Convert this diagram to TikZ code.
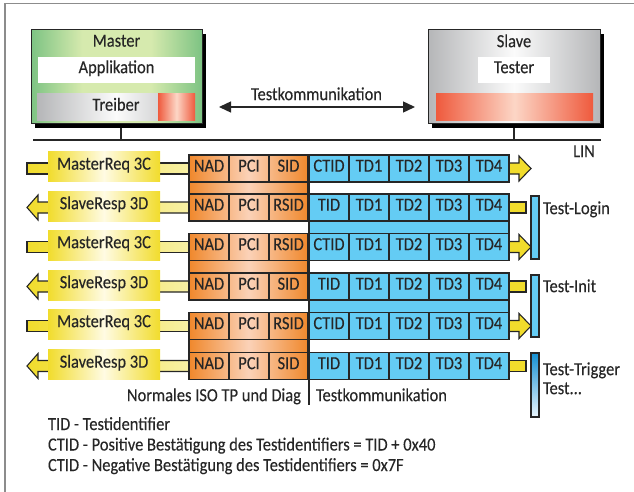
\documentclass[tikz,border=0pt]{standalone}
\usepackage{fontspec}
\setmainfont{Carlito}[FakeStretch=0.89, FakeBold=0.2]
\usetikzlibrary{arrows.meta}

\definecolor{ink}{HTML}{262626}
\definecolor{framegray}{HTML}{8C8C8C}
\definecolor{grnE}{HTML}{7DC383}
\definecolor{grnC}{HTML}{D6EAAE}
\definecolor{gryE}{HTML}{B5B6B8}
\definecolor{gryC}{HTML}{FBFBFB}
\definecolor{redE}{HTML}{EF5A3D}
\definecolor{redC}{HTML}{FCD6C6}
\definecolor{orgE}{HTML}{F0882C}
\definecolor{orgC}{HTML}{FBD2B8}
\definecolor{yelE}{HTML}{F1DC2C}
\definecolor{yelC}{HTML}{FFFBE3}
\definecolor{yelP}{HTML}{F8F1A8}
\definecolor{blu}{HTML}{64CCF4}
\definecolor{bluD}{HTML}{1490D2}
\definecolor{bluM}{HTML}{A6D9F4}
\definecolor{bluL}{HTML}{EAF6FD}

% edge - centre - edge colour bands (the path box maps to 25bp..75bp)
\pgfdeclarehorizontalshading{greenband}{100bp}{color(0bp)=(grnE); color(25bp)=(grnE); color(40bp)=(grnC); color(60bp)=(grnC); color(75bp)=(grnE); color(100bp)=(grnE)}
\pgfdeclarehorizontalshading{grayband}{100bp}{color(0bp)=(gryE); color(25bp)=(gryE); color(50bp)=(gryC); color(75bp)=(gryE); color(100bp)=(gryE)}
\pgfdeclarehorizontalshading{redband}{100bp}{color(0bp)=(redE); color(25bp)=(redE); color(50bp)=(redC); color(75bp)=(redE); color(100bp)=(redE)}
\pgfdeclarehorizontalshading{orangeband}{100bp}{color(0bp)=(orgE); color(25bp)=(orgE); color(50bp)=(orgC); color(75bp)=(orgE); color(100bp)=(orgE)}
\pgfdeclarehorizontalshading{yellowband}{100bp}{color(0bp)=(yelE); color(25bp)=(yelE); color(50bp)=(yelC); color(75bp)=(yelE); color(100bp)=(yelE)}

\newcommand\dfont{\fontsize{18.5pt}{21pt}\selectfont}

\begin{document}
\begin{tikzpicture}[x=1pt,y=-1pt,
  every node/.style={inner sep=0pt, outer sep=0pt, font=\dfont, text=ink,
                     text height=0.63em, text depth=0pt},
  unitbox/.style={draw=ink, line width=1pt},
  shadowbox/.style={fill=black},
  cellbox/.style={draw=ink, line width=1.2pt, minimum height=27pt},
  block/.style={draw=ink, line width=1.2pt},
  lbl/.style={shading=yellowband, minimum width=112pt, minimum height=30pt},
  arrowline/.style={draw=ink, line width=1.1pt, line join=miter},
  bar/.style={draw=ink, line width=1.1pt, minimum width=8pt},
  linkline/.style={ink, line width=1.8pt},
  commarrow/.style={ink, line width=1.4pt, {Triangle[length=12pt,width=11pt]}-{Triangle[length=12pt,width=11pt]}}
]
\useasboundingbox (0,0) rectangle (634,492);

% frame (top and left edge only)
\draw[framegray, line width=1.8pt] (5,492) -- (5,3.5) -- (634,3.5);

% ---------------- Master ----------------
\node[shadowbox, minimum width=171pt, minimum height=94pt] (mshadow) at (120.5,81) {};
\node[unitbox, shading=greenband, minimum width=171pt, minimum height=94pt] (master) at (116.5,77) {};
\node (mtitle) at (116.5,43.5) {Master};
\node[fill=white, minimum width=157pt, minimum height=26pt] (app) at (116.5,70) {Applikation};
\node[shading=grayband, minimum width=158pt, minimum height=27pt] (drv) at (116,107.5) {Treiber};
\node[shading=redband, minimum width=37pt, minimum height=27pt] (drvred) at (176.5,107.5) {};

% ---------------- Slave ----------------
\node[shadowbox, minimum width=172pt, minimum height=94pt] (sshadow) at (518,81) {};
\node[unitbox, shading=grayband, minimum width=172pt, minimum height=94pt] (slave) at (514,77) {};
\node (stitle) at (514,44) {Slave};
\node[fill=white, minimum width=72pt, minimum height=26pt] (tester) at (514,70) {Tester};
\node[shading=redband, minimum width=157pt, minimum height=27pt] (sred) at (514.5,107.5) {};

% test communication between the two units
\coordinate (tkL) at (219,107);
\coordinate (tkR) at (415,107);
\draw[commarrow] (tkL) -- (tkR);
\node (tklabel) at (316.5,97) {Testkommunikation};

% LIN bus and taps
\coordinate (linL) at (33,140);
\coordinate (linR) at (601,140);
\coordinate (mtap) at (121,140);
\draw[linkline] (linL) -- (linR);
\draw[linkline] (mtap |- mshadow.south) -- (mtap);
\draw[linkline] (sshadow.south -| slave.south) -- (slave.south |- linR);
\node (lin) at (584,154) {LIN};

% ---------------- frame arrows ----------------
% requests: master -> slave
\foreach \c in {168.5,247,326}{
  \draw[arrowline, left color=yelE, right color=yelP]
    (193,\c-5.5) -- (27,\c-5.5) -- (27,\c+5.5) -- (193,\c+5.5);
  \draw[arrowline, fill=yelE]
    (505,\c-5.5) -- (519,\c-5.5) -- (519,\c-12.5) -- (531,\c)
    -- (519,\c+12.5) -- (519,\c+5.5) -- (505,\c+5.5);
}
% responses: slave -> master
\foreach \c in {207.5,286.5,366}{
  \draw[arrowline, left color=yelE, right color=yelP]
    (193,\c-5.5) -- (38,\c-5.5) -- (38,\c-12.5) -- (27,\c)
    -- (38,\c+12.5) -- (38,\c+5.5) -- (193,\c+5.5);
  \draw[arrowline, fill=yelE]
    (505,\c-5.5) -- (526,\c-5.5) -- (526,\c+5.5) -- (505,\c+5.5);
}

% ---------------- frame blocks ----------------
% ISO TP / diagnostic part, grouped in pairs
\path[block, shading=orangeband] (189,155) rectangle (308,221);
\path[block, shading=orangeband] (189,233.5) rectangle (308,300);
\path[block, shading=orangeband] (189,312.5) rectangle (308,379.5);
% test communication part
\path[block, fill=blu] (309,155) rectangle (509,182);
\path[block, fill=blu] (309,194) rectangle (509,260.5);
\path[block, fill=blu] (309,273) rectangle (509,339.5);
\path[block, fill=blu] (309,352.5) rectangle (509,379.5);

\foreach \r/\c/\sid/\tid in {1/168.5/SID/CTID, 2/207.5/RSID/TID, 3/247/RSID/CTID,
                             4/286.5/SID/TID, 5/326/RSID/CTID, 6/366/SID/TID}{
  \node[cellbox, minimum width=40pt] (nad\r) at (209,\c) {NAD};
  \node[cellbox, minimum width=40pt] (pci\r) at (249,\c) {PCI};
  \node[cellbox, minimum width=39pt] (sid\r) at (288.5,\c) {\sid};
  \node[cellbox, minimum width=40pt] (tid\r) at (329,\c) {\tid};
  \node[cellbox, minimum width=40pt] (tda\r) at (369,\c) {TD1};
  \node[cellbox, minimum width=40pt] (tdb\r) at (409,\c) {TD2};
  \node[cellbox, minimum width=40pt] (tdc\r) at (449,\c) {TD3};
  \node[cellbox, minimum width=40pt] (tdd\r) at (489,\c) {TD4};
}

% frame labels
\foreach \r/\c in {1/166.5, 3/245, 5/324}
  \node[lbl] (lab\r) at (104,\c) {MasterReq 3C};
\foreach \r/\c in {2/206, 4/285, 6/364.5}
  \node[lbl] (lab\r) at (104,\c) {SlaveResp 3D};

% split between ISO TP and test communication
\coordinate (sepT) at (308.5,155);
\coordinate (sepB) at (308.5,405);
\draw[ink, line width=2pt] (sepT) -- (sepB);
\node[anchor=east] (isotp) at (301,398) {Normales ISO TP und Diag};
\node[anchor=west] (testcomm) at (316,398) {Testkommunikation};

% ---------------- phases ----------------
\node[bar, fill=blu, minimum height=63pt] (login) at (535,227.5) {};
\node[bar, fill=blu, minimum height=62pt] (init) at (535,306) {};
\node[bar, top color=bluD, middle color=bluM, bottom color=bluL, minimum height=64pt] (trigger) at (535,385) {};
\node[anchor=west] (loginlbl) at (543,211) {Test-Login};
\node[anchor=west] (initlbl) at (543,289) {Test-Init};
\node[anchor=west] (triggerlbl) at (543,372) {Test-Trigger};
\node[anchor=west] (morelbl) at (543,391) {Test...};

% ---------------- legend ----------------
\node[anchor=base west] (leg1) at (48,430) {TID - Testidentifier};
\node[anchor=base west] (leg2) at (48,450.5) {CTID - Positive Bestätigung des Testidentifiers = TID + 0x40};
\node[anchor=base west] (leg3) at (48,471) {CTID - Negative Bestätigung des Testidentifiers = 0x7F};
\end{tikzpicture}
\end{document}
